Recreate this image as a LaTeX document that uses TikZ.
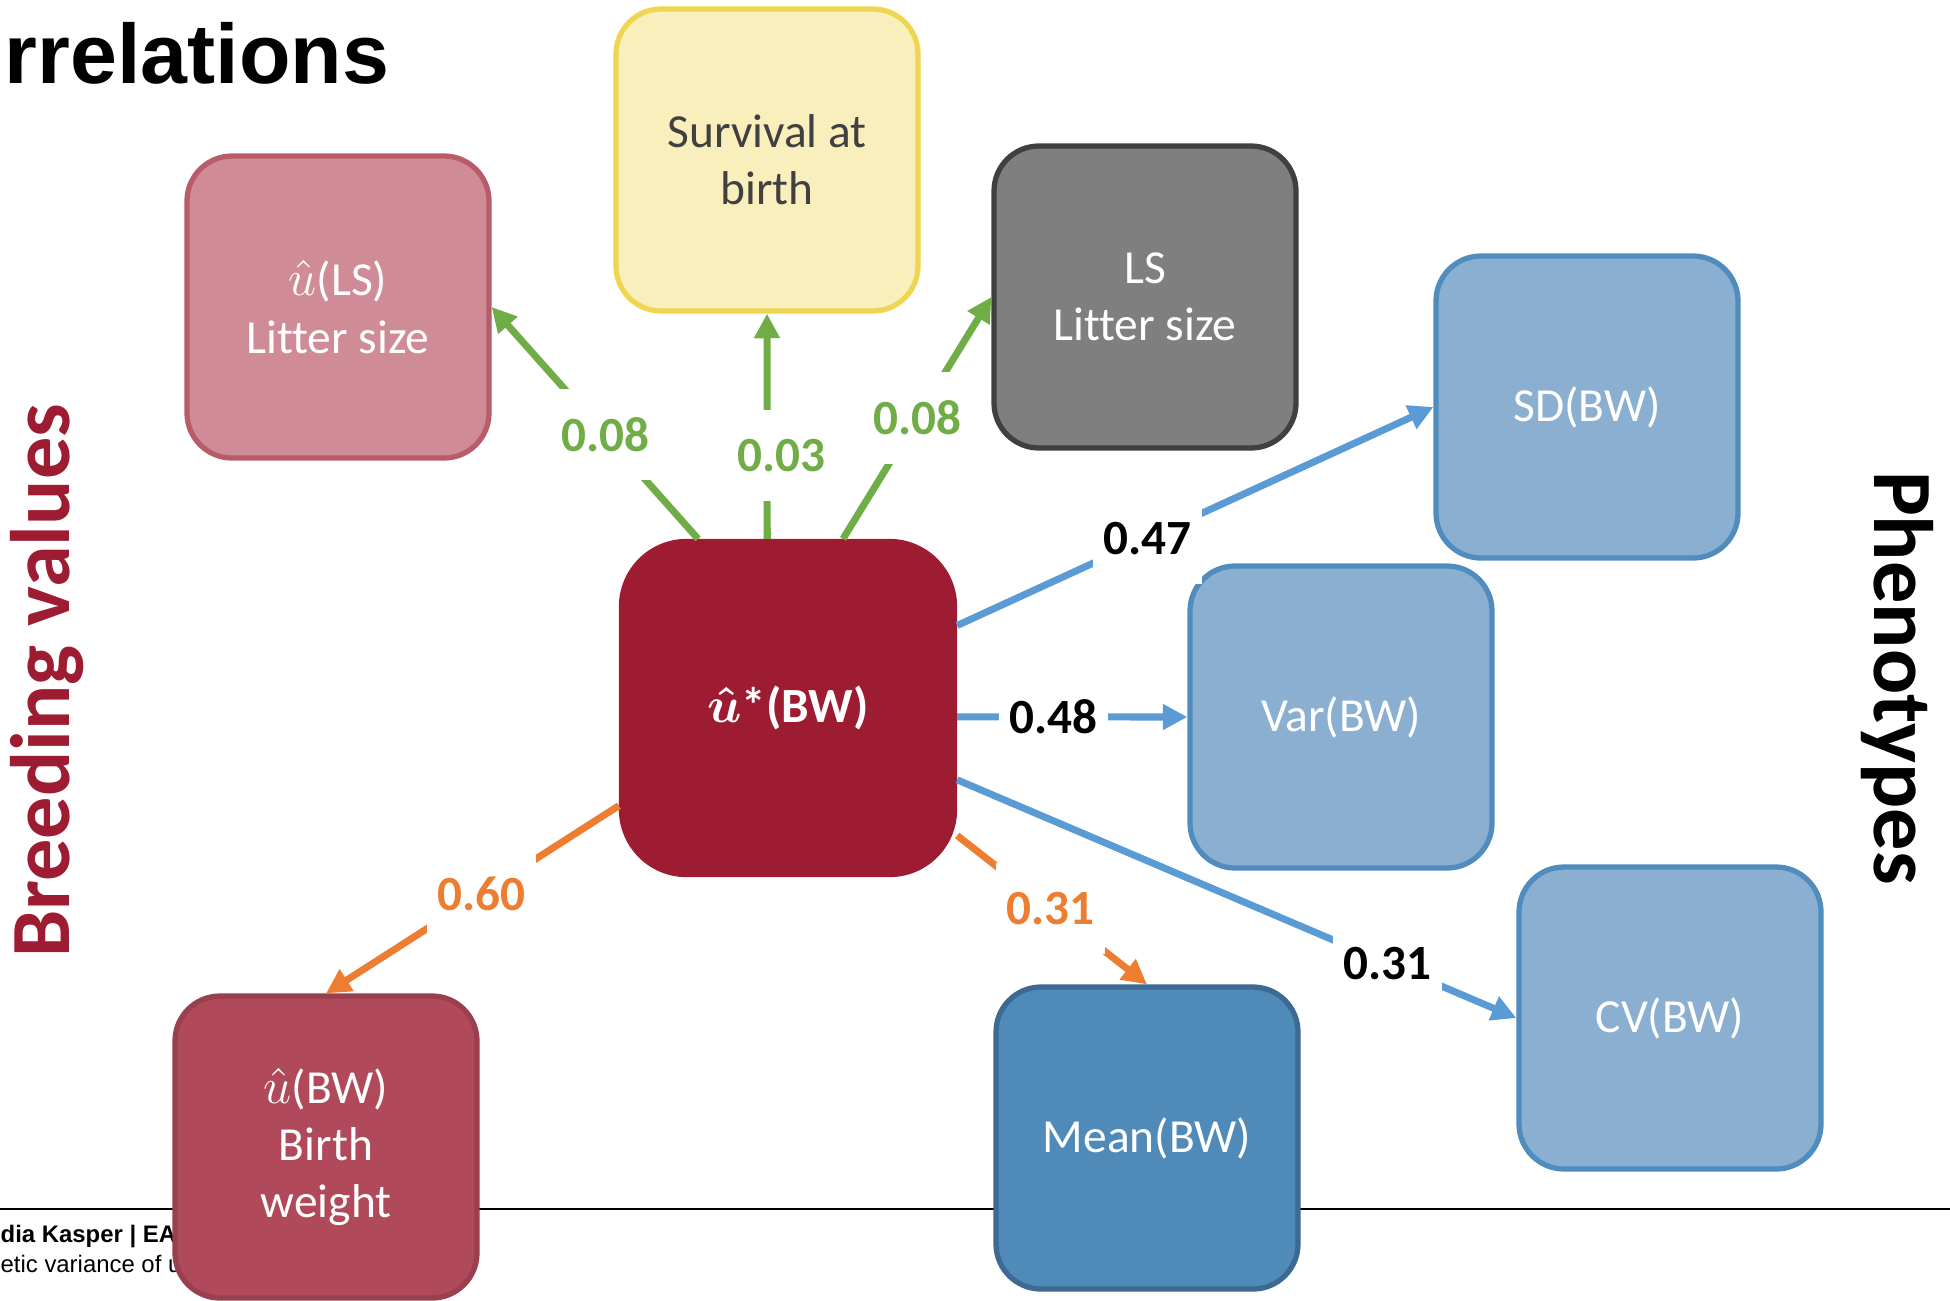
\documentclass[tikz,border=0pt]{standalone}
\usepackage{fontspec}
\setmainfont{Carlito}[Ligatures=NoCommon]
\newfontfamily\arialfont{Liberation Sans}
\usepackage{tikz}
\usetikzlibrary{arrows.meta}
\definecolor{bvred}{HTML}{9E1C32}
\definecolor{lsfill}{HTML}{D08C96}
\definecolor{lsdraw}{HTML}{B95C6A}
\definecolor{bwfill}{HTML}{B04A5A}
\definecolor{bwdraw}{HTML}{9A3F4E}
\definecolor{survfill}{HTML}{F9EFBD}
\definecolor{survdraw}{HTML}{F0D650}
\definecolor{survtext}{HTML}{404040}
\definecolor{litfill}{HTML}{7F7F7F}
\definecolor{litdraw}{HTML}{404040}
\definecolor{phfill}{HTML}{8AAFD1}
\definecolor{phdraw}{HTML}{508CBE}
\definecolor{meanfill}{HTML}{4F8AB8}
\definecolor{meandraw}{HTML}{3C6A93}
\definecolor{arrgreen}{HTML}{70AD47}
\definecolor{arrblue}{HTML}{5B9BD5}
\definecolor{arrorange}{HTML}{ED7D31}
\tikzset{ trait_box/.style = {rectangle, rounded corners=4.5mm, draw, line width=1.5pt, minimum width=30.2mm, minimum height=30.2mm, align=center, text=white, font=\fontsize{13.5}{16.3}\selectfont} }
\tikzset{ corr/.style = {line width=2pt, >={Triangle[length=7pt,width=7pt]}} }
\tikzset{ corr_lab/.style = {fill=white, inner sep=3pt, minimum height=26pt, text=black, font=\fontsize{14}{16}\selectfont\bfseries} }

\begin{document}
\begin{tikzpicture}[x=0.1mm,y=-0.1mm]
        \useasboundingbox (0,0) rectangle (1950,1300);
        % footer
        \draw[line width=0.7pt] (0,1209) -- (1950,1209);
        \node[anchor=base west, inner sep=0, font=\arialfont\fontsize{6.8}{8}\selectfont\bfseries] (ft1) at (0,1242) {dia Kasper | EA};
        \node[anchor=base west, inner sep=0, font=\arialfont\fontsize{6.8}{8}\selectfont] (ft2) at (0,1272) {etic variance of u};
        \node[anchor=base west, inner sep=0, font=\arialfont\fontsize{24}{28}\selectfont\bfseries] (title) at (4,83) {rrelations};
        \node[rotate=90, anchor=base, inner sep=0, text=bvred, font=\fontsize{24}{28}\selectfont\bfseries] (bv) at (69,681) {Breeding values};
        \node[rotate=-90, anchor=base, inner sep=0, font=\fontsize{24}{28}\selectfont\bfseries] (ph) at (1874,678) {Phenotypes};
        % boxes
        \node[trait_box, fill=lsfill, draw=lsdraw] (uls) at (338,307) {$\hat{u}$(LS)\\Litter size};
        \node[trait_box, fill=survfill, draw=survdraw, text=survtext] (surv) at (767,160) {Survival at\\birth};
        \node[trait_box, fill=litfill, draw=litdraw] (ls) at (1145,297) {LS\\Litter size};
        \node[trait_box, fill=phfill, draw=phdraw] (sd) at (1587,407) {SD(BW)};
        \node[trait_box, fill=phfill, draw=phdraw] (var) at (1341,717) {Var(BW)};
        \node[trait_box, fill=phfill, draw=phdraw] (cv) at (1670,1018) {CV(BW)};
        \node[trait_box, fill=meanfill, draw=meandraw] (mean) at (1147,1138) {Mean(BW)};
        \node[trait_box, fill=bwfill, draw=bwdraw] (ubw) at (326,1147) {$\hat{u}$(BW)\\Birth\\weight};
        \node[trait_box, fill=bvred, draw=bvred, rounded corners=6.5mm, minimum width=33.3mm, minimum height=33.3mm, font=\fontsize{14}{16.3}\selectfont\bfseries] (c) at (788,708) {{\boldmath$\hat{u}$}*(BW)};
        % correlations
        \draw[->, corr, arrgreen] (c.118.6) to node[corr_lab, text=arrgreen, pos=0.45] (l1) {0.08} (uls.east);
        \draw[->, corr, arrgreen] (c.97.1) to node[corr_lab, text=arrgreen, pos=0.37, xshift=1.4mm] (l2) {0.03} (surv.south);
        \draw[->, corr, arrgreen] (c.72.1) to node[corr_lab, text=arrgreen, pos=0.5] (l3) {0.08} (ls.west);
        \draw[->, corr, arrblue] (c.26.9) to node[corr_lab, pos=0.4] (l4) {0.47} (sd.west);
        \draw[->, corr, arrblue] (c.-3.4) to node[corr_lab, pos=0.42] (l5) {0.48} (var.west);
        \draw[->, corr, arrblue] (c.-23.1) to node[corr_lab, pos=0.77] (l6) {0.31} (cv.west);
        \draw[->, corr, arrorange] (c.-37.1) to node[corr_lab, text=arrorange, pos=0.49] (l7) {0.31} (mean.north);
        \draw[->, corr, arrorange] (c.210.8) to node[corr_lab, text=arrorange, pos=0.47] (l8) {0.60} (ubw.north);
        \end{tikzpicture}
\end{document}
